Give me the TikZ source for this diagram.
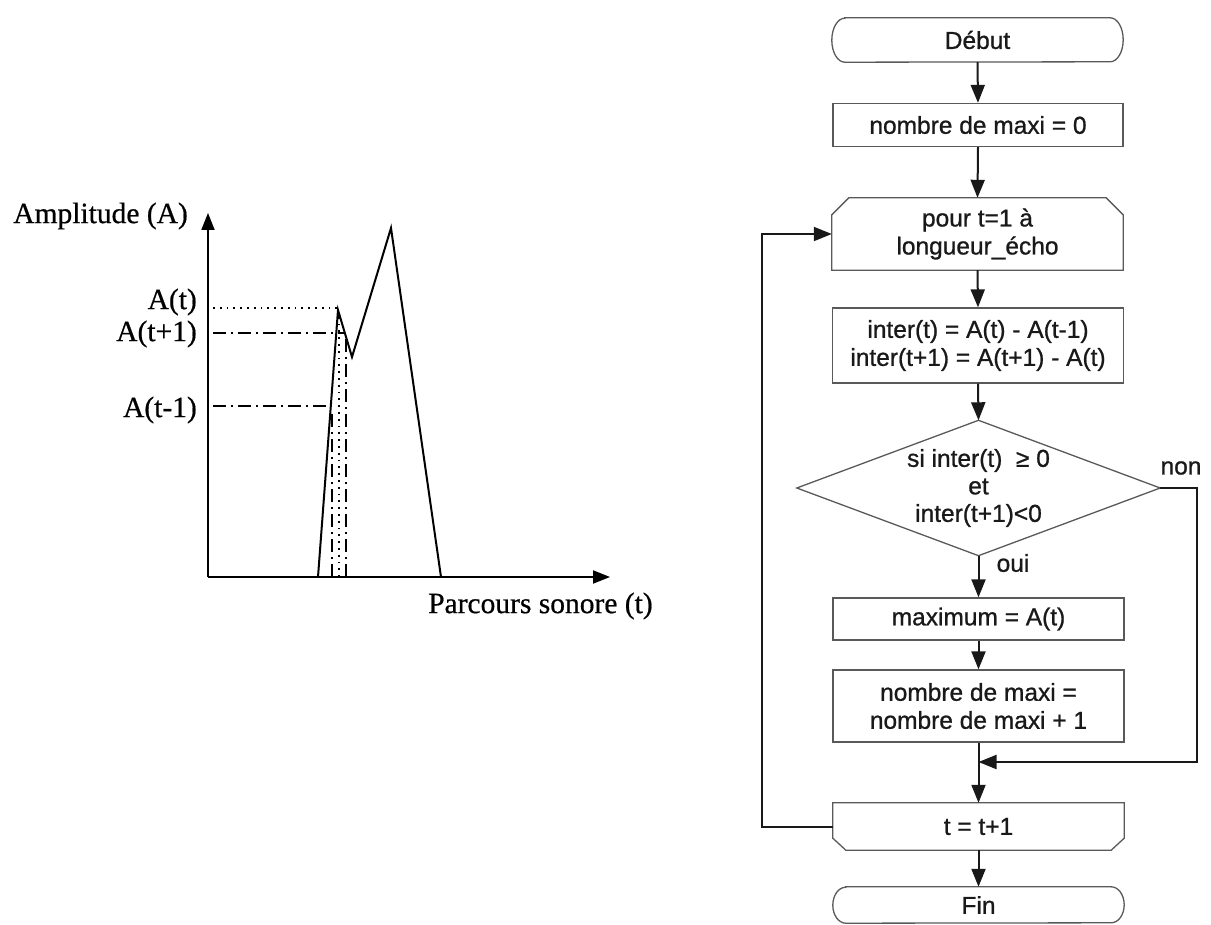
\documentclass[tikz,border=0pt]{standalone}
\usepackage{fontspec}
\setmainfont{Liberation Serif}[FakeBold=0.6]
\newfontfamily\arialf{Liberation Sans}[FakeBold=0.9]
\usetikzlibrary{arrows.meta,calc}
\begin{document}
\begin{tikzpicture}[x=1pt,y=-1pt,
 fc/.style={font=\arialf\fontsize{24.5}{28}\selectfont, align=center, inner sep=0pt, text=black!90},
 frame/.style={draw=black!65, line width=1.3pt},
 conn/.style={line width=2pt, draw=black!90, -{Triangle[length=18pt,width=14pt]}},
 gtxt/.style={font=\fontsize{29.5}{32}\selectfont, inner sep=0pt},
 curve/.style={line width=2pt, line join=miter},
 dotl/.style={line width=1.8pt, dash pattern=on 1.8pt off 5pt},
 dashdotl/.style={line width=1.8pt, dash pattern=on 13pt off 5pt on 2pt off 5pt},
]
\useasboundingbox (0,0) rectangle (1211,925);

% ---------------- left graph ----------------
\coordinate (O) at (208,577);
\coordinate (Ytip) at (208,213);
\coordinate (Xtip) at (610,577);
\draw[line width=1.8pt, -{Triangle[length=17pt,width=13pt]}] (O) -- (Ytip);
\draw[line width=1.8pt, -{Triangle[length=17pt,width=13pt]}] (O) -- (Xtip);

\coordinate (p0) at (318,577);
\coordinate (p1) at (338,310);
\coordinate (p2) at (352,357);
\coordinate (p3) at (391,228);
\coordinate (p4) at (441,577);
\draw[curve] (p0) -- (p1) -- (p2) -- (p3) -- (p4);

\draw[dotl] (213,308) -- (337,308);
\draw[dashdotl] (213,333) -- (344,333);
\draw[dashdotl] (213,406) -- (331,406);
\draw[dashdotl] (332,577) -- (332,410);
\draw[dotl] (339,577) -- (339,314);
\draw[dashdotl] (346,577) -- (346,336);

\node[gtxt, anchor=east] (lampl) at (188,216) {Amplitude (A)};
\node[gtxt, anchor=east] (lat) at (197,302) {A(t)};
\node[gtxt, anchor=east] (latp) at (197,334) {A(t+1)};
\node[gtxt, anchor=east] (latm) at (197,410) {A(t-1)};
\node[gtxt, anchor=west] (lparc) at (428,606) {Parcours sonore (t)};

% ---------------- flowchart ----------------
\node[fc, minimum width=291pt, minimum height=44pt] (debut) at (977.5,40) {Début};
\draw[frame] ($(debut.north west)+(13,0)$) -- ($(debut.north east)+(-13,0)$)
  arc[start angle=90,end angle=-90,x radius=13pt,y radius=22pt]
  -- ($(debut.south west)+(13,0)$)
  arc[start angle=270,end angle=90,x radius=13pt,y radius=22pt] -- cycle;

\node[fc, frame, minimum width=290pt, minimum height=43pt] (n0) at (978,125) {nombre de maxi = 0};

\node[fc, minimum width=291pt, minimum height=72pt] (loop) at (977.5,234) {pour t=1 à\\longueur\_écho};
\draw[frame] (loop.south west) -- ($(loop.north west)+(0,17)$) -- ($(loop.north west)+(17,0)$)
  -- ($(loop.north east)+(-17,0)$) -- ($(loop.north east)+(0,17)$) -- (loop.south east) -- cycle;

\node[fc, frame, minimum width=291pt, minimum height=75pt] (inter) at (978,345.5) {inter(t) = A(t) - A(t-1)\\inter(t+1) = A(t+1) - A(t)};

\node[fc, minimum width=363pt, minimum height=135pt, font=\arialf\fontsize{24.5}{27.5}\selectfont] (dec) at (978.5,488) {si inter(t)\ \ ≥ 0\\et\\inter(t+1)<0};
\draw[frame] (dec.west) -- (dec.north) -- (dec.east) -- (dec.south) -- cycle;

\node[fc, frame, minimum width=291pt, minimum height=42pt] (maxb) at (978.5,619) {maximum = A(t)};
\node[fc, frame, minimum width=291pt, minimum height=72pt] (inc) at (978.5,706) {nombre de maxi =\\nombre de maxi + 1};

\node[fc, minimum width=291pt, minimum height=47pt] (tb) at (978.5,826.5) {t = t+1};
\draw[frame] (tb.north west) -- (tb.north east) -- ($(tb.south east)+(0,-12)$) -- ($(tb.south east)+(-13,0)$)
  -- ($(tb.south west)+(13,0)$) -- ($(tb.south west)+(0,-12)$) -- cycle;

\node[fc, minimum width=291pt, minimum height=36pt] (fin) at (978.5,905) {Fin};
\draw[frame] ($(fin.north west)+(13,0)$) -- ($(fin.north east)+(-13,0)$)
  arc[start angle=90,end angle=-90,x radius=13pt,y radius=18pt]
  -- ($(fin.south west)+(13,0)$)
  arc[start angle=270,end angle=90,x radius=13pt,y radius=18pt] -- cycle;

\node[fc] (oui) at (1013,563) {oui};
\node[fc] (non) at (1181,468) {non};

% connectors
\coordinate (join) at (978.5,762);
\coordinate (lx) at (762,0);
\coordinate (rx) at (1197,0);
\draw[conn] (debut.south) -- (n0.north);
\draw[conn] (n0.south) -- (loop.north);
\draw[conn] (loop.south) -- (inter.north);
\draw[conn] (inter.south) -- (dec.north);
\draw[conn] (dec.south) -- (maxb.north);
\draw[conn] (maxb.south) -- (inc.north);
\draw[conn] (inc.south) -- (tb.north);
\draw[conn] (tb.south) -- (fin.north);
\draw[conn] (dec.east) -- (dec.east -| rx) |- (join);
\draw[conn] (tb.west) -- (tb.west -| lx) |- (loop.west);
\end{tikzpicture}
\end{document}
